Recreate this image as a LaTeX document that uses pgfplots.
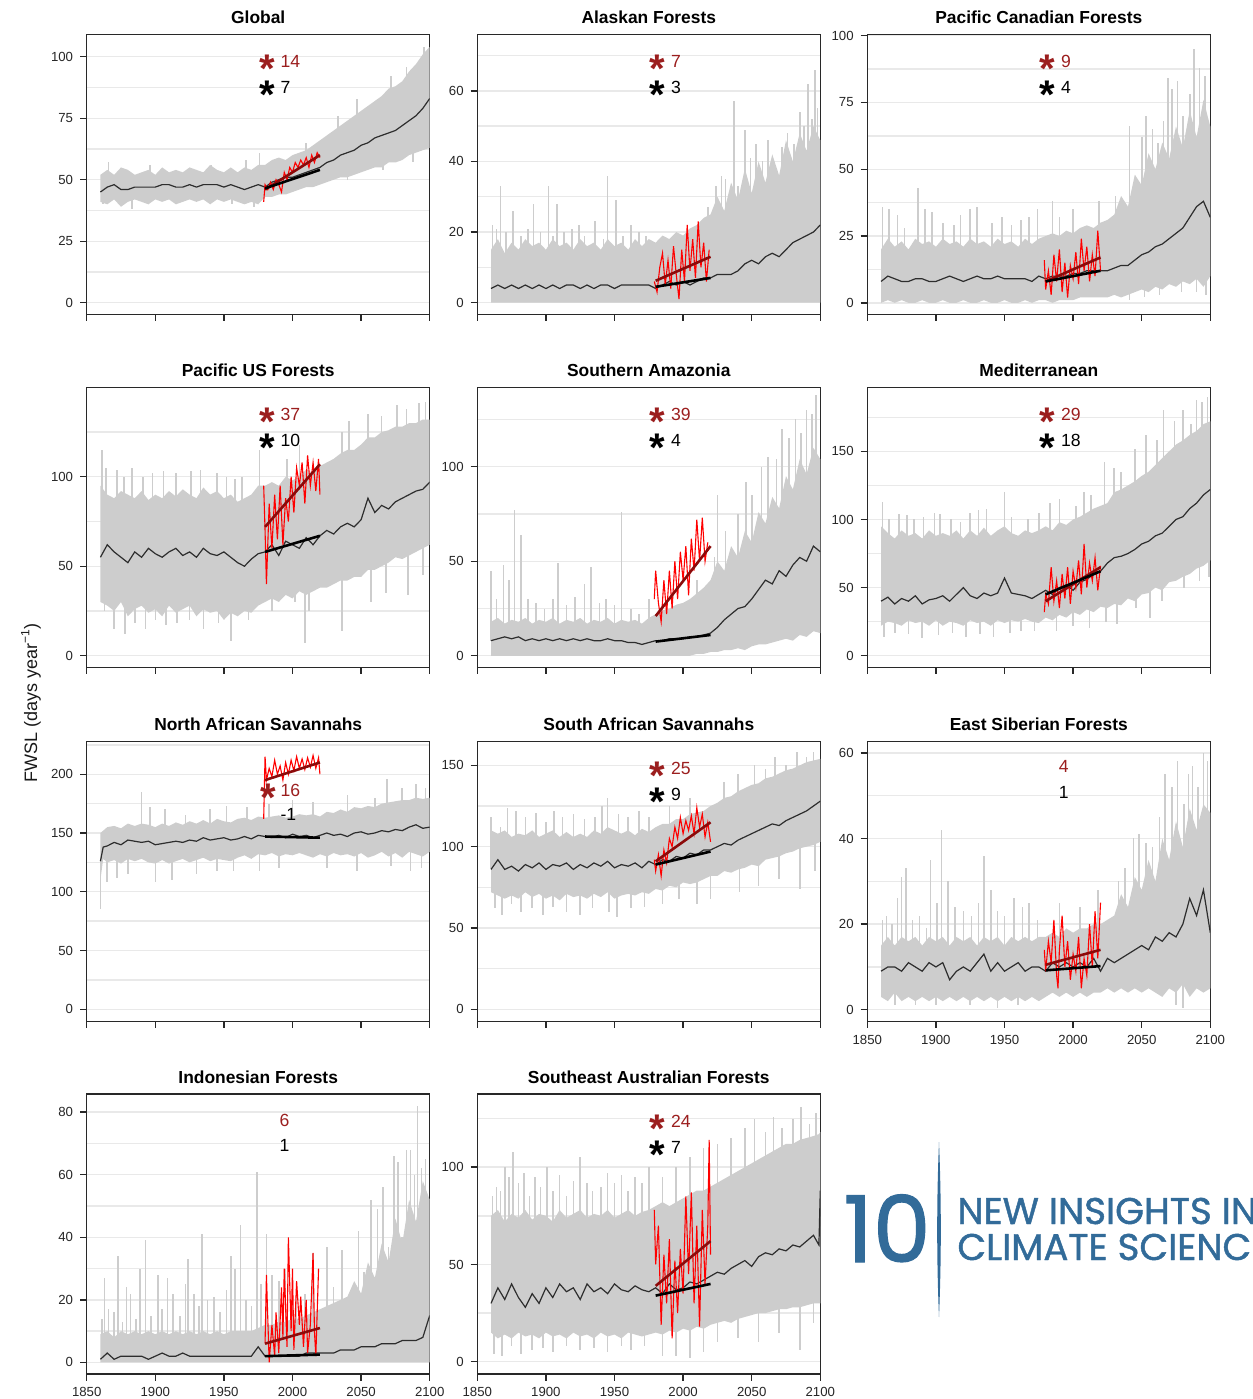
\documentclass[border=0pt]{standalone}
\usepackage{fontspec}
\setmainfont{Liberation Sans}
\newfontfamily\logofont[FakeBold=1.2]{Poppins}
\usepackage{pgfplots}
\pgfplotsset{compat=1.18}
\usepackage{pgfplotstable}
\usepgfplotslibrary{fillbetween}

\definecolor{bandc}{RGB}{205,205,205}
\definecolor{meanc}{RGB}{45,45,45}
\definecolor{obsc}{RGB}{255,0,0}
\definecolor{rtrend}{RGB}{140,10,10}
\definecolor{annred}{RGB}{155,30,30}
\definecolor{gridc}{RGB}{233,233,233}
\definecolor{axc}{RGB}{40,40,40}
\definecolor{logoc}{RGB}{50,107,153}

\newcommand{\annfont}{\fontsize{8.8}{9}\selectfont}
\newcommand{\astk}{\raisebox{-7.6pt}{\fontsize{20}{20}\selectfont\bfseries *}}

\pgfplotsset{
  panel/.style={
    scale only axis, width=171.5pt, height=140pt,
    xmin=1850, xmax=2100, xtick={1850,1900,1950,2000,2050,2100},
    xticklabels={},
    tick pos=left, tick align=outside,
    major tick length=3.3pt, minor tick length=0pt,
    ymajorgrids, yminorgrids,
    major grid style={draw=gridc, line width=0.7pt},
    minor grid style={draw=gridc, line width=0.7pt},
    axis line style={draw=axc, line width=0.7pt},
    every tick/.style={draw=axc, line width=0.7pt},
    tick label style={font=\fontsize{6.6}{7}\selectfont, text=black!85},
    /pgf/number format/assume math mode=true,
    title style={font=\bfseries\fontsize{8.7}{10}\selectfont, at={(0.5,1)}, anchor=base, yshift=-0.8pt},
    anchor=north west,
  },
  xlab/.style={xticklabels={1850,1900,1950,2000,2050,2100}},
  spk/.style={draw=bandc, line width=0.8pt, -, no markers},
  meanl/.style={draw=meanc, line width=0.6pt, no markers},
  obsl/.style={draw=obsc, line width=0.55pt, no markers},
  rtr/.style={draw=rtrend, line width=1.3pt, no markers},
  btr/.style={draw=black, line width=1.3pt, no markers},
}

\newcommand{\bandplots}[2]{%
  \addplot[name path=lo, draw=none, forget plot] table[x=x,y=lo]{#1};
  \addplot[name path=hi, draw=none, forget plot] table[x=x,y=hi]{#1};
  \addplot[fill=bandc, draw=none, forget plot] fill between[of=hi and lo];
  \addplot[spk, quiver={u=0, v=\thisrow{t}-\thisrow{b}}] table[x=x,y=b]{#2};
  \addplot[meanl] table[x=x,y=m]{#1};
}
\newcommand{\ann}[4]{%
  \node[anchor=base, inner sep=0pt, text=annred] at (axis description cs:0.526,#3) {\astk};
  \node[anchor=base west, inner sep=0pt, text=annred, font=\annfont] at (axis description cs:0.564,#3) {#1};
  \node[anchor=base, inner sep=0pt, text=black] at (axis description cs:0.526,#4) {\astk};
  \node[anchor=base west, inner sep=0pt, text=black, font=\annfont] at (axis description cs:0.564,#4) {#2};
}

% ---------------- Global
\pgfplotstableread{
x lo hi m
1860 41 52 45
1865 40 54 47
1870 42 52 48
1875 39 55 46
1880 41 54 46
1885 42 52 47
1890 41 53 47
1895 40 54 47
1900 42 52 47
1905 41 55 48
1910 42 53 48
1915 40 54 47
1920 41 53 47
1925 42 55 48
1930 41 54 47
1935 42 53 48
1940 40 56 48
1945 42 54 48
1950 41 53 47
1955 42 55 48
1960 41 53 47
1965 40 55 46
1970 41 54 47
1975 40 56 48
1980 43 56 47
1985 43 58 49
1990 44 59 50
1995 44 58 51
2000 45 60 51
2005 46 61 52
2010 47 62 53
2015 47 64 54
2020 48 66 55
2025 49 68 57
2030 50 70 58
2035 51 72 60
2040 51 74 61
2045 52 76 62
2050 53 78 64
2055 54 80 65
2060 55 82 67
2065 55 84 68
2070 57 87 69
2075 57 88 70
2080 58 90 72
2085 60 94 74
2090 61 97 76
2095 62 101 79
2100 63 104 83
}\tGlo
\pgfplotstableread{
x b t
1862 46 40
1866 47 57
1883 46 38
1896 47 56
1941 48 56
1956 48 40
1966 47 58
1972 47 39
1976 48 61
2010 53 65
2033 59 76
2040 61 50
2047 63 83
2066 68 54
2072 69 92
2083 73 96
2088 75 57
2096 80 104
}\sGlo

% ---------------- Alaskan
\pgfplotstableread{
x lo hi m
1860 0 15 4
1865 0 18 5
1870 0 14 4
1875 0 17 5
1880 0 15 4
1885 0 18 5
1890 0 16 4
1895 0 17 5
1900 0 15 4
1905 0 18 5
1910 0 16 4
1915 0 17 5
1920 0 15 5
1925 0 18 4
1930 0 16 5
1935 0 17 4
1940 0 15 5
1945 0 18 5
1950 0 16 4
1955 0 17 5
1960 0 15 5
1965 0 18 5
1970 0 16 5
1975 0 18 5
1980 0 17 4
1985 0 19 5
1990 0 18 6
1995 0 20 5
2000 0 19 6
2005 0 21 5
2010 0 22 6
2015 0 24 7
2020 0 25 7
2025 0 30 8
2030 0 26 8
2035 0 34 8
2040 0 29 9
2045 0 38 11
2050 0 31 12
2055 0 40 11
2060 0 34 13
2065 0 42 14
2070 0 36 13
2075 0 46 15
2080 0 40 17
2085 0 48 18
2090 0 43 19
2095 0 50 20
2100 0 46 22
}\tAla
\pgfplotstableread{
x b t
1861 5 22
1864 5 21
1867 5 33
1871 5 20
1876 5 26
1882 5 19
1887 5 21
1891 5 28
1896 5 20
1902 5 33
1905 5 19
1908 5 28
1913 5 20
1919 5 21
1924 5 22
1928 5 19
1936 5 23
1942 5 18
1945 5 36
1951 5 29
1956 5 19
1962 5 22
1968 5 20
1973 5 19
2014 7 22
2018 7 27
2024 8 33
2028 8 36
2031 8 35
2037 9 57
2040 9 33
2045 11 49
2049 12 41
2053 12 45
2058 13 40
2062 14 46
2067 14 38
2072 14 44
2076 15 48
2081 17 45
2085 18 54
2088 18 50
2091 19 62
2094 20 52
2096 20 66
2098 21 55
}\sAla

% ---------------- Pacific Canadian
\pgfplotstableread{
x lo hi m
1860 0 20 8
1865 1 24 10
1870 0 21 9
1875 1 23 8
1880 0 20 8
1885 0 24 9
1890 1 22 9
1895 0 23 8
1900 0 21 8
1905 1 24 9
1910 0 22 10
1915 0 23 9
1920 1 21 8
1925 0 24 9
1930 0 22 10
1935 1 23 9
1940 0 21 9
1945 0 24 10
1950 1 22 9
1955 0 23 9
1960 0 21 9
1965 1 24 9
1970 0 22 8
1975 1 24 10
1980 1 25 9
1985 0 26 10
1990 1 25 10
1995 1 27 10
2000 1 26 11
2005 2 28 11
2010 2 29 12
2015 2 28 12
2020 2 30 12
2025 2 31 12
2030 3 33 13
2035 2 40 14
2040 3 36 14
2045 4 48 16
2050 5 44 18
2055 4 56 19
2060 6 50 21
2065 5 60 22
2070 7 54 24
2075 6 66 26
2080 8 58 28
2085 7 72 32
2090 9 62 36
2095 6 76 38
2100 10 66 32
}\tPCa
\pgfplotstableread{
x b t
1861 9 36
1866 9 35
1872 9 33
1877 9 28
1887 9 43
1892 9 35
1897 9 34
1905 9 30
1913 9 29
1918 9 33
1925 9 35
1930 9 36
1941 9 30
1948 9 32
1955 9 29
1962 9 31
1968 9 32
1974 9 35
1985 10 38
1990 10 32
2000 11 35
2019 12 38
2031 13 40
2041 14 66
2041 14 1
2044 15 45
2050 18 62
2052 18 2
2053 18 70
2058 20 65
2062 21 60
2063 21 3
2066 22 68
2069 24 84
2072 25 80
2076 26 83
2079 27 4
2080 28 70
2085 32 78
2088 34 95
2090 35 4
2092 36 88
2096 37 85
2097 37 3
}\sPCa

% ---------------- Pacific US
\pgfplotstableread{
x lo hi m
1860 30 95 55
1865 28 90 62
1870 25 88 58
1875 30 92 55
1880 22 90 52
1885 26 88 58
1890 28 92 55
1895 24 87 60
1900 26 90 57
1905 22 88 55
1910 28 92 58
1915 24 89 60
1920 26 93 56
1925 28 90 58
1930 22 88 55
1935 26 94 60
1940 24 90 57
1945 25 92 56
1950 20 88 58
1955 24 90 55
1960 22 86 52
1965 25 88 50
1970 24 90 54
1975 28 95 57
1980 30 95 58
1985 32 97 62
1990 30 95 56
1995 34 100 64
2000 32 98 62
2005 36 100 60
2010 34 104 66
2015 36 102 62
2020 38 106 67
2025 38 108 70
2030 40 110 68
2035 42 113 72
2040 42 115 74
2045 44 115 72
2050 44 118 76
2055 48 122 88
2060 48 122 80
2065 50 125 84
2070 52 126 82
2075 55 128 86
2080 54 128 88
2085 56 130 90
2090 58 130 92
2095 60 132 93
2100 62 132 97
}\tPUS
\pgfplotstableread{
x b t
1861 55 115
1863 55 25
1864 60 105
1870 58 15
1872 58 104
1877 55 100
1878 55 12
1883 55 105
1885 58 18
1891 55 100
1893 56 15
1898 58 102
1900 57 20
1906 55 103
1908 56 17
1915 60 102
1916 60 18
1925 58 20
1926 58 103
1933 57 104
1935 60 15
1945 56 102
1946 56 18
1952 57 100
1955 55 8
1958 54 99
1963 51 100
1968 52 20
1976 57 115
1985 62 25
1996 63 110
2002 62 30
2005 60 118
2009 64 7
2012 64 25
2036 72 14
2036 72 125
2041 74 131
2055 88 135
2057 84 30
2065 84 134
2068 83 35
2076 86 140
2083 89 138
2084 89 34
2092 92 141
2095 93 45
2097 94 142
}\sPUS

% ---------------- Southern Amazonia
\pgfplotstableread{
x lo hi m
1860 0 18 8
1865 0 20 9
1870 0 17 10
1875 0 19 9
1880 0 18 10
1885 0 20 8
1890 0 17 9
1895 0 19 8
1900 0 18 9
1905 0 20 8
1910 0 17 9
1915 0 19 8
1920 0 18 9
1925 0 20 8
1930 0 17 9
1935 0 19 8
1940 0 18 8
1945 0 20 9
1950 0 17 8
1955 0 19 8
1960 0 18 7
1965 0 19 7
1970 0 17 6
1975 0 20 7
1980 0 22 8
1985 0 24 8
1990 0 25 9
1995 0 27 9
2000 0 28 9
2005 0 30 10
2010 1 33 10
2015 1 36 11
2020 2 40 12
2025 2 50 15
2030 3 45 19
2035 3 58 22
2040 4 52 25
2045 3 66 26
2050 5 60 30
2055 6 76 35
2060 6 70 40
2065 7 84 38
2070 8 78 45
2075 9 95 42
2080 8 88 48
2085 11 104 52
2090 10 96 50
2095 13 110 58
2100 12 104 55
}\tSAm
\pgfplotstableread{
x b t
1860 8 45
1864 8 30
1869 9 48
1873 9 40
1877 9 77
1882 9 64
1887 9 30
1893 8 28
1899 8 25
1905 8 30
1909 8 49
1915 8 27
1921 8 31
1928 8 38
1933 8 47
1939 8 28
1944 8 30
1950 8 27
1955 8 76
1962 7 25
1968 7 22
1975 7 30
2010 10 40
2023 14 52
2025 15 85
2031 19 66
2040 25 75
2046 27 92
2050 30 85
2057 36 100
2062 40 105
2068 42 104
2072 44 120
2077 45 115
2082 50 125
2086 52 118
2090 52 130
2094 55 128
2097 56 138
}\sSAm

% ---------------- Mediterranean
\pgfplotstableread{
x lo hi m
1860 22 95 40
1865 25 90 43
1870 24 86 38
1875 22 92 42
1880 26 88 40
1885 24 90 44
1890 25 86 38
1895 22 92 41
1900 26 88 42
1905 22 90 44
1910 25 88 40
1915 24 92 45
1920 22 86 50
1925 26 92 44
1930 24 88 42
1935 25 94 46
1940 22 88 44
1945 26 92 46
1950 24 95 57
1955 26 90 46
1960 25 88 45
1965 27 92 44
1970 25 90 42
1975 24 92 45
1980 28 95 48
1985 26 92 45
1990 30 98 50
1995 28 96 52
2000 32 100 48
2005 30 102 54
2010 34 105 56
2015 32 108 60
2020 36 110 62
2025 35 112 68
2030 38 120 72
2035 37 122 73
2040 42 125 75
2045 40 128 78
2050 45 132 82
2055 46 135 84
2060 50 140 88
2065 48 145 90
2070 54 150 95
2075 55 155 100
2080 58 158 102
2085 60 162 108
2090 64 165 112
2095 66 170 118
2100 70 172 122
}\tMed
\pgfplotstableread{
x b t
1861 40 113
1862 40 14
1866 43 100
1870 38 17
1873 40 104
1879 40 103
1880 40 16
1884 44 100
1890 38 13
1891 38 102
1899 41 105
1902 42 15
1903 42 104
1911 40 100
1912 40 17
1918 45 98
1922 48 14
1925 44 105
1931 42 107
1932 42 16
1937 46 108
1942 44 14
1950 57 120
1954 48 17
1955 46 102
1962 45 18
1967 44 100
1972 42 18
1975 45 105
1983 47 112
1988 48 18
1990 50 115
2000 48 22
2002 50 110
2008 55 120
2012 57 20
2013 57 118
2023 66 142
2024 66 25
2030 72 138
2032 72 23
2035 73 135
2045 78 152
2046 78 35
2053 83 162
2056 84 28
2061 88 158
2065 90 40
2066 90 180
2074 98 172
2080 102 180
2081 102 50
2086 108 170
2090 112 188
2092 114 55
2094 116 186
2098 120 190
2099 120 58
}\sMed

% ---------------- North African
\pgfplotstableread{
x lo hi m
1860 110 150 126
1862 128 152 138
1865 125 155 139
1870 127 156 142
1875 124 154 140
1880 128 158 144
1885 126 156 143
1890 128 158 142
1895 125 157 143
1900 124 155 140
1905 127 158 141
1910 124 156 142
1915 126 159 143
1920 128 157 142
1925 125 160 144
1930 127 158 143
1935 129 161 146
1940 126 158 144
1945 128 162 145
1950 127 160 146
1955 126 159 144
1960 129 162 145
1965 131 163 147
1970 128 161 145
1975 132 164 148
1980 131 163 147
1985 133 164 146
1990 130 165 148
1995 132 163 146
2000 131 164 149
2005 133 166 147
2010 131 165 148
2015 129 166 146
2020 132 164 148
2025 130 168 150
2030 133 167 148
2035 131 170 149
2040 132 168 147
2045 130 172 150
2050 133 171 151
2055 129 173 149
2060 131 172 150
2065 134 175 152
2070 130 176 151
2075 133 177 153
2080 129 178 152
2085 134 178 155
2090 132 180 157
2095 130 179 154
2100 134 180 155
}\tNAf
\pgfplotstableread{
x b t
1860 126 85
1865 139 108
1872 142 112
1880 144 115
1890 142 185
1896 143 172
1900 140 108
1907 141 170
1912 142 110
1922 142 165
1930 143 115
1940 144 170
1945 145 118
1952 146 173
1957 144 118
1967 147 172
1976 148 118
1983 147 175
1990 148 120
2000 149 178
2015 146 176
2025 150 120
2040 147 182
2047 150 118
2060 150 180
2069 151 196
2072 151 122
2080 152 188
2086 155 118
2090 157 192
2094 154 120
2097 154 188
}\sNAf

% ---------------- South African
\pgfplotstableread{
x lo hi m
1860 72 110 86
1865 70 108 92
1870 68 110 86
1875 70 106 88
1880 68 108 85
1885 72 107 89
1890 69 110 87
1895 71 106 90
1900 68 108 86
1905 70 110 89
1910 67 106 88
1915 71 109 90
1920 69 106 86
1925 70 108 89
1930 68 106 87
1935 71 110 90
1940 69 108 88
1945 72 112 91
1950 68 110 87
1955 70 108 89
1960 71 110 88
1965 70 107 90
1970 72 111 87
1975 71 109 91
1980 74 112 89
1985 73 114 92
1990 76 114 91
1995 75 117 94
2000 78 117 93
2005 77 120 96
2010 78 121 95
2015 80 122 98
2020 82 125 98
2025 82 127 100
2030 85 130 102
2035 84 131 101
2040 86 134 104
2045 87 136 106
2050 89 138 108
2055 88 139 110
2060 92 142 112
2065 93 143 114
2070 94 145 113
2075 96 147 116
2080 97 148 118
2085 99 150 120
2090 100 152 122
2095 101 153 125
2100 103 154 128
}\tSAf
\pgfplotstableread{
x b t
1860 86 118
1863 88 62
1867 90 112
1868 88 58
1872 86 124
1875 88 65
1878 87 122
1882 86 60
1885 89 118
1890 87 62
1893 88 121
1898 89 58
1900 86 115
1905 89 63
1906 89 122
1912 88 118
1915 90 60
1920 86 120
1925 89 58
1928 88 117
1934 89 62
1936 90 118
1941 89 125
1945 91 130
1946 91 60
1952 88 57
1953 88 120
1960 88 118
1962 88 62
1968 88 122
1972 88 63
1975 91 118
1985 92 65
1990 91 125
1997 93 68
2005 96 130
2010 95 65
2020 98 68
2030 102 140
2040 104 145
2041 104 72
2052 109 150
2055 110 76
2060 112 148
2067 114 155
2070 113 80
2075 116 150
2083 119 158
2085 120 74
2090 122 155
2095 125 158
2096 125 85
}\sSAf

% ---------------- East Siberian
\pgfplotstableread{
x lo hi m
1860 3 15 9
1865 2 17 10
1870 4 15 10
1875 2 17 9
1880 3 16 11
1885 2 17 10
1890 3 15 9
1895 2 17 11
1900 3 16 10
1905 2 17 11
1910 3 15 7
1915 2 17 9
1920 3 16 10
1925 2 17 9
1930 3 15 11
1935 2 17 13
1940 3 16 9
1945 2 17 11
1950 3 15 9
1955 2 17 10
1960 3 16 11
1965 2 17 9
1970 3 16 10
1975 2 17 10
1980 3 17 9
1985 4 18 11
1990 3 17 10
1995 4 19 11
2000 3 18 10
2005 4 19 11
2010 3 19 10
2015 4 20 12
2020 4 20 9
2025 5 21 12
2030 4 22 11
2035 5 27 12
2040 4 24 13
2045 5 31 14
2050 4 28 15
2055 5 35 14
2060 4 30 17
2065 3 40 16
2070 5 35 18
2075 4 44 17
2080 6 38 20
2085 3 47 26
2090 5 42 22
2095 4 48 28
2100 5 46 18
}\tESi
\pgfplotstableread{
x b t
1861 9 21
1864 10 22
1868 10 20
1870 10 1
1872 10 26
1875 9 31
1878 10 33
1883 10 21
1885 10 1
1888 10 22
1893 10 19
1896 11 35
1900 10 1
1901 10 25
1904 11 42
1909 9 30
1914 9 24
1920 10 23
1925 9 1
1926 9 22
1931 11 25
1935 13 36
1940 9 28
1945 11 0.5
1945 11 23
1950 9 22
1957 10 26
1960 11 1
1963 10 24
1968 10 25
1974 10 21
1990 10 25
2005 11 24
2018 10 28
2033 12 30
2038 13 33
2044 14 40
2048 15 41
2053 15 39
2058 16 38
2063 16 45
2067 17 55
2072 18 52
2075 17 1
2076 17 58
2080 20 0.5
2081 21 48
2084 24 55
2087 26 57
2091 23 52
2095 28 60
2098 25 58
}\sESi

% ---------------- Indonesian
\pgfplotstableread{
x lo hi m
1860 0 9 1
1865 0 10 3
1870 0 8 1
1875 0 10 2
1880 0 9 2
1885 0 10 2
1890 0 9 2
1895 0 10 1
1900 0 9 2
1905 0 10 3
1910 0 9 2
1915 0 10 2
1920 0 9 3
1925 0 10 2
1930 0 9 2
1935 0 10 2
1940 0 9 2
1945 0 10 2
1950 0 9 2
1955 0 10 2
1960 0 10 2
1965 0 10 2
1970 0 10 2
1975 0 11 5
1980 0 12 2
1985 0 12 2
1990 0 13 2
1995 0 13 2
2000 0 14 2
2005 0 14 2
2010 0 15 3
2015 0 16 3
2020 0 17 3
2025 0 18 3
2030 0 19 3
2035 0 20 4
2040 0 21 4
2045 0 26 4
2050 0 22 5
2055 0 32 5
2060 0 27 5
2065 0 38 6
2070 0 32 6
2075 0 46 6
2080 0 38 7
2085 0 52 7
2090 0 45 7
2095 0 58 8
2100 0 52 15
}\tIdn
\pgfplotstableread{
x b t
1861 2 14
1863 2 27
1866 2 17
1870 2 16
1873 2 34
1876 2 13
1879 2 24
1882 2 22
1886 2 14
1889 2 30
1893 2 39
1897 2 15
1902 2 28
1905 2 17
1909 2 27
1913 2 22
1918 2 15
1922 2 25
1924 2 33
1928 2 22
1932 2 18
1934 2 41
1938 2 20
1943 2 21
1947 2 16
1952 2 23
1955 2 34
1958 2 30
1962 2 44
1966 2 20
1970 2 18
1974 2 61
1977 2 25
1981 2 41
1985 2 28
1990 2 26
1995 2 30
2000 2 28
2003 2 24
2009 2 22
2015 3 35
2025 3 37
2030 3 24
2036 4 36
2041 4 21
2048 5 42
2052 5 29
2057 5 52
2062 5 49
2066 6 56
2070 6 37
2074 6 66
2077 6 64
2080 7 40
2083 7 68
2086 7 68
2089 7 60
2091 7 82
2094 8 62
2097 8 65
}\sIdn

% ---------------- Southeast Australian
\pgfplotstableread{
x lo hi m
1860 15 75 30
1865 12 78 38
1870 14 72 32
1875 12 76 40
1880 15 74 33
1885 13 78 28
1890 14 73 35
1895 12 76 30
1900 15 75 38
1905 13 72 33
1910 14 78 40
1915 12 74 36
1920 15 76 38
1925 13 78 32
1930 14 74 40
1935 12 76 36
1940 15 75 38
1945 13 78 35
1950 14 74 40
1955 12 76 37
1960 15 78 36
1965 14 75 39
1970 13 77 37
1975 14 78 36
1980 15 80 38
1985 14 82 35
1990 16 80 40
1995 15 82 37
2000 17 84 38
2005 16 86 41
2010 18 88 40
2015 17 88 42
2020 19 90 44
2025 20 92 46
2030 21 94 45
2035 20 96 48
2040 22 98 50
2045 23 100 52
2050 24 102 49
2055 25 104 54
2060 25 106 56
2065 26 108 55
2070 27 110 58
2075 27 112 57
2080 28 112 60
2085 28 114 59
2090 29 115 62
2095 30 116 65
2099 30 117 60
2100 30 118 88
}\tSEA
\pgfplotstableread{
x b t
1861 30 85
1862 30 4
1864 35 90
1867 35 88
1868 35 3
1870 32 100
1873 36 95
1875 40 8
1876 38 108
1880 33 92
1882 33 4
1884 30 97
1888 32 85
1890 35 6
1892 33 95
1896 32 90
1898 35 7
1901 38 100
1905 33 88
1905 33 5
1910 40 96
1915 36 85
1915 36 8
1920 38 93
1925 32 105
1925 32 6
1930 40 92
1934 36 88
1935 36 7
1940 38 90
1945 35 97
1945 35 5
1950 40 92
1955 37 96
1955 37 8
1960 36 88
1962 37 6
1965 39 95
1970 37 92
1972 37 8
1975 36 100
1985 35 95
1985 35 3
1995 37 100
1995 37 3
2005 41 105
2005 41 2
2015 42 110
2015 42 5
2025 46 112
2025 46 10
2035 48 115
2040 50 12
2045 52 120
2052 51 125
2055 54 10
2060 56 118
2066 55 126
2070 58 15
2072 58 120
2080 60 125
2085 59 6
2086 59 131
2092 62 122
2095 65 20
2097 63 128
}\sSEA

\begin{document}
\begin{tikzpicture}

% ===== Row 1
\begin{axis}[panel, at={(43.35pt,-17.15pt)}, title={Global},
  ymin=-4.7, ymax=109.1, ytick={0,25,50,75,100}, minor ytick={12.5,37.5,62.5,87.5}]
\bandplots{\tGlo}{\sGlo}
\addplot[obsl] coordinates {(1979,41)(1980,48)(1982,46)(1984,49)(1986,46)(1988,50)(1990,48)(1992,45)(1994,53)(1996,50)(1998,55)(2000,53)(2002,57)(2004,55)(2006,58)(2008,56)(2010,59)(2012,55)(2014,60)(2016,57)(2018,61)(2020,59)};
\addplot[rtr] coordinates {(1980,46)(2020,60)};
\addplot[btr] coordinates {(1980,46.5)(2020,54)};
\ann{14}{7}{0.881}{0.789}
\end{axis}

\begin{axis}[panel, at={(238.65pt,-17.15pt)}, title={Alaskan Forests},
  ymin=-3.3, ymax=76, ytick={0,20,40,60}, minor ytick={10,30,50,70}]
\bandplots{\tAla}{\sAla}
\addplot[obsl] coordinates {(1979,6)(1981,3)(1983,10)(1985,14)(1987,5)(1989,12)(1991,4)(1993,16)(1995,8)(1997,1)(1999,15)(2001,6)(2003,22)(2005,9)(2007,18)(2009,7)(2011,23)(2013,10)(2015,17)(2017,6)(2019,15)};
\addplot[rtr] coordinates {(1980,6.2)(2020,13)};
\addplot[btr] coordinates {(1980,4.5)(2020,7)};
\ann{7}{3}{0.881}{0.789}
\end{axis}

\begin{axis}[panel, at={(433.65pt,-17.15pt)}, title={Pacific Canadian Forests},
  ymin=-4.3, ymax=100.5, ytick={0,25,50,75,100}, minor ytick={12.5,37.5,62.5,87.5}]
\bandplots{\tPCa}{\sPCa}
\addplot[obsl] coordinates {(1979,16)(1980,5)(1982,12)(1984,3)(1986,18)(1988,8)(1990,20)(1992,4)(1994,15)(1996,2)(1998,14)(2000,9)(2002,19)(2004,7)(2006,24)(2008,12)(2010,21)(2012,8)(2014,18)(2016,10)(2018,27)(2020,12)};
\addplot[rtr] coordinates {(1980,8)(2020,17)};
\addplot[btr] coordinates {(1980,8)(2020,12)};
\ann{9}{4}{0.881}{0.789}
\end{axis}

% ===== Row 2
\begin{axis}[panel, at={(43.35pt,-193.65pt)}, title={Pacific US Forests},
  ymin=-6.5, ymax=150, ytick={0,50,100}, minor ytick={25,75,125}]
\bandplots{\tPUS}{\sPUS}
\addplot[obsl] coordinates {(1979,95)(1980,70)(1981,40)(1983,85)(1985,60)(1987,90)(1989,65)(1991,95)(1993,62)(1995,88)(1997,75)(1999,100)(2001,80)(2003,105)(2005,95)(2007,108)(2009,85)(2011,112)(2013,95)(2015,108)(2017,92)(2019,110)(2020,90)};
\addplot[rtr] coordinates {(1980,72)(2020,107)};
\addplot[btr] coordinates {(1980,58)(2020,67)};
\ann{37}{10}{0.881}{0.789}
\end{axis}

\begin{axis}[panel, at={(238.65pt,-193.65pt)}, title={Southern Amazonia},
  ymin=-6.1, ymax=142, ytick={0,50,100}, minor ytick={25,75,125}]
\bandplots{\tSAm}{\sSAm}
\addplot[obsl] coordinates {(1979,30)(1980,45)(1982,28)(1984,18)(1986,40)(1988,22)(1990,45)(1992,25)(1994,50)(1996,30)(1998,55)(2000,40)(2002,58)(2004,32)(2006,62)(2008,45)(2010,72)(2012,50)(2014,73)(2016,50)(2018,60)};
\addplot[rtr] coordinates {(1980,21)(2020,58)};
\addplot[btr] coordinates {(1980,7.5)(2020,11)};
\ann{39}{4}{0.881}{0.789}
\end{axis}

\begin{axis}[panel, at={(433.65pt,-193.65pt)}, title={Mediterranean},
  ymin=-8.5, ymax=197, ytick={0,50,100,150}, minor ytick={25,75,125,175}]
\bandplots{\tMed}{\sMed}
\addplot[obsl] coordinates {(1979,32)(1980,45)(1982,38)(1984,65)(1986,40)(1988,55)(1990,35)(1992,60)(1994,42)(1996,65)(1998,38)(2000,62)(2002,50)(2004,70)(2006,45)(2008,82)(2010,50)(2012,68)(2014,55)(2016,72)(2018,48)(2020,66)};
\addplot[rtr] coordinates {(1980,40)(2020,65)};
\addplot[btr] coordinates {(1980,45)(2020,62)};
\ann{29}{18}{0.881}{0.789}
\end{axis}

% ===== Row 3
\begin{axis}[panel, at={(43.35pt,-370.65pt)}, title={North African Savannahs},
  ymin=-10.2, ymax=228, ytick={0,50,100,150,200}, minor ytick={25,75,125,175,225}]
\bandplots{\tNAf}{\sNAf}
\addplot[obsl] coordinates {(1979,162)(1980,215)(1981,195)(1983,205)(1985,198)(1987,212)(1989,200)(1991,207)(1993,195)(1995,210)(1997,200)(1999,212)(2001,203)(2003,215)(2005,205)(2007,213)(2009,204)(2011,214)(2013,206)(2015,216)(2017,205)(2019,214)(2020,200)};
\addplot[rtr] coordinates {(1980,195)(2020,210)};
\addplot[btr] coordinates {(1980,147)(2020,146)};
\node[anchor=base, inner sep=0pt, text=annred] at (axis description cs:0.528,0.803) {\astk};
\node[anchor=base west, inner sep=0pt, text=annred, font=\annfont] at (axis description cs:0.564,0.803) {16};
\node[anchor=base west, inner sep=0pt, text=black, font=\annfont] at (axis description cs:0.564,0.716) {-1};
\end{axis}

\begin{axis}[panel, at={(238.65pt,-370.65pt)}, title={South African Savannahs},
  ymin=-7.4, ymax=164.8, ytick={0,50,100,150}, minor ytick={25,75,125}]
\bandplots{\tSAf}{\sSAf}
\addplot[obsl] coordinates {(1979,92)(1980,85)(1982,95)(1984,82)(1986,98)(1988,90)(1990,105)(1992,100)(1994,112)(1996,105)(1998,118)(2000,108)(2002,116)(2004,110)(2006,119)(2008,108)(2010,124)(2012,112)(2014,120)(2016,106)(2018,115)(2020,103)};
\addplot[rtr] coordinates {(1980,91)(2020,115)};
\addplot[btr] coordinates {(1980,89)(2020,97)};
\ann{25}{9}{0.881}{0.789}
\end{axis}

\begin{axis}[panel, xlab, at={(433.65pt,-370.65pt)}, title={East Siberian Forests},
  ymin=-2.7, ymax=62.7, ytick={0,20,40,60}, minor ytick={10,30,50}]
\bandplots{\tESi}{\sESi}
\addplot[obsl] coordinates {(1979,14)(1980,9)(1982,16)(1984,11)(1986,21)(1988,8)(1989,5)(1990,14)(1992,22)(1994,10)(1996,16)(1998,7)(2000,13)(2002,9)(2004,17)(2006,5)(2008,12)(2010,8)(2012,20)(2014,10)(2016,23)(2018,12)(2020,25)};
\addplot[rtr] coordinates {(1980,10.5)(2020,14)};
\addplot[btr] coordinates {(1980,9.2)(2020,10.2)};
\node[anchor=base, inner sep=0pt, text=annred, font=\annfont] at (axis description cs:0.573,0.887) {4};
\node[anchor=base, inner sep=0pt, text=black, font=\annfont] at (axis description cs:0.573,0.795) {1};
\end{axis}

% ===== Row 4
\begin{axis}[panel, xlab, at={(43.35pt,-547pt)}, title={Indonesian Forests},
  ymin=-3.7, ymax=85.8, ytick={0,20,40,60,80}, minor ytick={10,30,50,70}]
\bandplots{\tIdn}{\sIdn}
\addplot[obsl] coordinates {(1980,6)(1981,28)(1983,0)(1985,12)(1987,2)(1988,16)(1990,3)(1992,24)(1993,8)(1994,30)(1996,5)(1997,40)(1999,10)(2000,30)(2001,4)(2003,26)(2005,12)(2006,21)(2008,5)(2010,20)(2011,3)(2013,12)(2015,35)(2016,10)(2017,2)(2019,30)};
\addplot[rtr] coordinates {(1980,6)(2020,11)};
\addplot[btr] coordinates {(1980,2)(2020,2.5)};
\node[anchor=base, inner sep=0pt, text=annred, font=\annfont] at (axis description cs:0.577,0.885) {6};
\node[anchor=base, inner sep=0pt, text=black, font=\annfont] at (axis description cs:0.577,0.795) {1};
\end{axis}

\begin{axis}[panel, xlab, at={(238.65pt,-547pt)}, title={Southeast Australian Forests},
  ymin=-6.3, ymax=137.6, ytick={0,50,100}, minor ytick={25,75,125}]
\bandplots{\tSEA}{\sSEA}
\addplot[obsl] coordinates {(1979,78)(1980,50)(1982,70)(1984,19)(1986,55)(1988,30)(1990,63)(1992,12)(1994,52)(1996,25)(1998,58)(2000,35)(2002,85)(2004,45)(2006,87)(2008,30)(2010,70)(2012,18)(2014,78)(2016,40)(2018,70)(2019,114)(2020,55)};
\addplot[rtr] coordinates {(1980,39)(2020,62)};
\addplot[btr] coordinates {(1980,34)(2020,40)};
\ann{24}{7}{0.881}{0.789}
\end{axis}

% y label
\node[rotate=90, font=\fontsize{9}{10}\selectfont, text=black!90] at (15.5pt,-351.5pt) {FWSL (days year\textsuperscript{−1})};

% logo
\node[anchor=base west, inner sep=0pt, text=logoc, font=\logofont\fontsize{46}{46}\selectfont] at (421.5pt,-631pt) {10};
\fill[logoc] (469.5pt,-571pt) .. controls (470.7pt,-600pt) and (470.7pt,-630pt) .. (469.5pt,-658.5pt)
   .. controls (468.3pt,-630pt) and (468.3pt,-600pt) .. (469.5pt,-571pt);
\node[anchor=base west, inner sep=0pt, text=logoc, font=\logofont\fontsize{18.6}{19}\selectfont] at (478.5pt,-612pt) {NEW INSIGHTS IN};
\node[anchor=base west, inner sep=0pt, text=logoc, font=\logofont\fontsize{18.6}{19}\selectfont] at (478.5pt,-630pt) {CLIMATE SCIENCE};

\pgfresetboundingbox
\useasboundingbox (0,0) rectangle (626.5pt,-699.5pt);
\end{tikzpicture}
\end{document}
